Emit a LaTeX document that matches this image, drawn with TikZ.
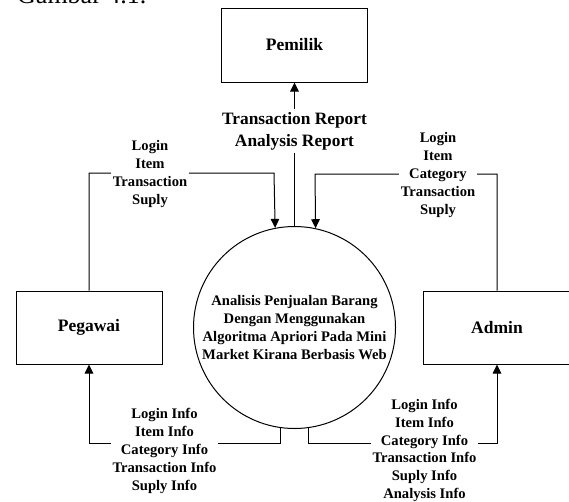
\documentclass[tikz,border=0pt]{standalone}
\usepackage{fontspec}
\setmainfont{Liberation Serif}
\usetikzlibrary{arrows.meta}
\begin{document}
\begin{tikzpicture}[x=1pt,y=-1pt,
  entity/.style={draw, line width=1pt, minimum width=146pt, minimum height=73pt,
    inner sep=0pt, font=\fontsize{17.5}{21}\selectfont\bfseries},
  process/.style={draw, circle, line width=1pt, minimum size=202pt, inner sep=0pt,
    align=center, font=\fontsize{14.6}{17.7}\selectfont\bfseries},
  flow/.style={line width=1pt, -{Triangle[length=9pt,width=8.5pt]}},
  lbl/.style={fill=white, align=center, inner xsep=1.5pt, inner ysep=1.5pt,
    font=\fontsize{14.6}{17.8}\selectfont\bfseries},
]
\useasboundingbox (0,0) rectangle (569,501);
\fill[white] (0,0) rectangle (569,501);

% caption line above the figure (top part cut off)
\node[anchor=base west, inner sep=0pt, font=\fontsize{26}{30}\selectfont] (cap) at (17,3.5) {Gambar 4.1.};

% external entities and the process
\node[entity, minimum height=74pt] (pemilik) at (294.5,45) {Pemilik};
\node[entity] (pegawai) at (89,327.5) {Pegawai};
\node[entity, minimum width=148pt] (admin) at (497,327.5) {Admin};
\node[process] (proc) at (294.5,327.5)
  {Analisis Penjualan Barang\\Dengan Menggunakan\\Algoritma Apriori Pada Mini\\Market Kirana Berbasis Web};

% bend points of the data flows
\coordinate (pgUp) at (274,173);
\coordinate (adUp) at (315,174);
\coordinate (pgDown) at (89,443);
\coordinate (adDown) at (497,443);

% data flows
\draw[flow] (proc.north) -- (pemilik.south);
\draw[flow] (pegawai.north) |- (pgUp) -- (proc.101.7);
\draw[flow] (admin.north) |- (adUp) -- (proc.78.3);
\draw[flow] (proc.262) |- (pgDown) -- (pegawai.south);
\draw[flow] (proc.278) |- (adDown) -- (admin.south);

% flow labels
\node[lbl, font=\fontsize{17.35}{22}\selectfont\bfseries, inner ysep=3pt] (lpm) at (294.5,131)
  {Transaction Report\\Analysis Report};
\node[lbl] (lpg) at (150,174) {Login\\Item\\Transaction\\Suply};
\node[lbl] (lad) at (438,175) {Login\\Item\\Category\\Transaction\\Suply};
\node[lbl] (lpgi) at (164.5,451)
  {Login Info\\Item Info\\Category Info\\Transaction Info\\Suply Info};
\node[lbl] (ladi) at (424.5,450.5)
  {Login Info\\Item Info\\Category Info\\Transaction Info\\Suply Info\\Analysis Info};
\end{tikzpicture}
\end{document}
